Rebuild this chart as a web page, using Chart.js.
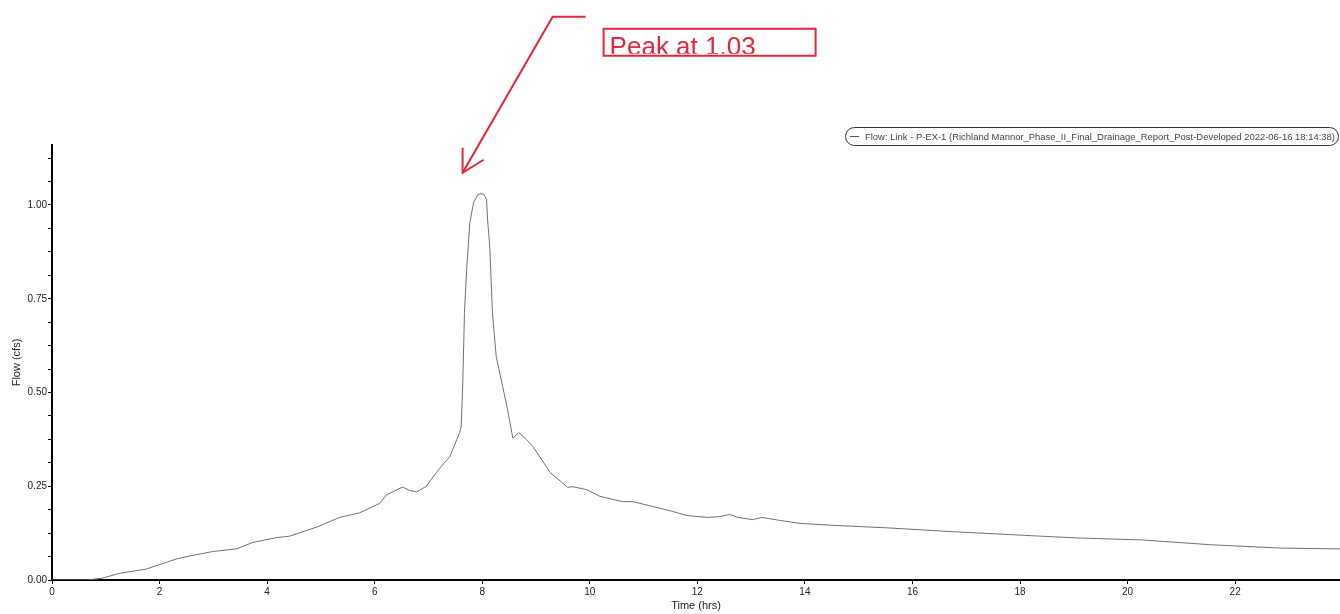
<!DOCTYPE html>
<html>
<head>
<meta charset="utf-8">
<script src="https://cdn.jsdelivr.net/npm/chart.js@4.4.1/dist/chart.umd.min.js"></script>
<style>
  html, body { margin: 0; padding: 0; background: #fff; }
  canvas { display: block; }
</style>
</head>
<body>
<canvas id="flow-chart" width="1340" height="614"></canvas>
<script>
// hydrograph: time in hrs, flow in cfs
const times = [0, 0.66, 0.94, 1.26, 1.75, 2.00, 2.31, 2.56, 2.99, 3.43, 3.73, 4.17, 4.42, 4.92, 5.35, 5.72,
  6.09, 6.22, 6.52, 6.65, 6.78, 6.96, 7.15, 7.40, 7.58, 7.61, 7.64, 7.67, 7.71, 7.77, 7.84, 7.92, 7.97,
  8.03, 8.08, 8.10, 8.14, 8.19, 8.26, 8.38, 8.47, 8.57, 8.68, 8.82, 8.94, 9.19, 9.26, 9.59, 9.68, 9.94,
  10.19, 10.61, 10.80, 11.17, 11.54, 11.80, 12.18, 12.42, 12.60, 12.75, 13.03, 13.20, 13.53, 13.91,
  14.50, 15.54, 16.72, 17.96, 19.08, 20.25, 21.55, 22.86, 23.95];
const flows = [0, 0, 0.005, 0.018, 0.029, 0.041, 0.056, 0.064, 0.076, 0.083, 0.100, 0.113, 0.117, 0.141, 0.167, 0.179,
  0.204, 0.227, 0.248, 0.239, 0.235, 0.250, 0.287, 0.330, 0.393, 0.410, 0.535, 0.713, 0.828, 0.953, 1.007, 1.028, 1.03,
  1.028, 1.015, 0.960, 0.889, 0.713, 0.596, 0.516, 0.455, 0.378, 0.393, 0.375, 0.356, 0.303, 0.287, 0.247, 0.249, 0.241,
  0.223, 0.209, 0.209, 0.196, 0.183, 0.172, 0.167, 0.169, 0.175, 0.167, 0.161, 0.167, 0.159, 0.151,
  0.146, 0.139, 0.129, 0.120, 0.112, 0.107, 0.094, 0.085, 0.083];
const xTicks = [0, 2, 4, 6, 8, 10, 12, 14, 16, 18, 20, 22];
const yLabels = [0, 0.25, 0.5, 0.75, 1.0];

const seriesName = 'Flow: Link - P-EX-1 (Richland Mannor_Phase_II_Final_Drainage_Report_Post-Developed 2022-06-16 18:14:38)';
const peakText = 'Peak at 1.03';
const red = '#e4253b';
const font = 'Liberation Sans, Arial, sans-serif';

const points = times.map((t, i) => ({ x: t, y: flows[i] }));

// legend box in the top right corner
const legendBox = {
  id: 'legendBox',
  afterDraw(chart) {
    const ctx = chart.ctx;
    ctx.save();
    ctx.strokeStyle = '#333';
    ctx.lineWidth = 1;
    ctx.beginPath();
    ctx.roundRect(845.5, 127.5, 493, 18, 9);
    ctx.stroke();
    ctx.strokeStyle = '#555';
    ctx.beginPath();
    ctx.moveTo(850, 136.5);
    ctx.lineTo(859, 136.5);
    ctx.stroke();
    ctx.fillStyle = '#444';
    ctx.font = '9.5px ' + font;
    ctx.textBaseline = 'middle';
    ctx.fillText(seriesName, 865, 137, 470);
    ctx.restore();
  }
};

// red arrow + boxed label pointing at the peak
const peakNote = {
  id: 'peakNote',
  afterDraw(chart) {
    const xs = chart.scales.x, ys = chart.scales.y;
    let k = 0;
    flows.forEach((v, i) => { if (v > flows[k]) k = i; });
    const px = xs.getPixelForValue(times[k]);
    const py = ys.getPixelForValue(flows[k]);
    const tipX = px - 18, tipY = py - 21;
    const ctx = chart.ctx;
    ctx.save();
    ctx.strokeStyle = red;
    ctx.lineWidth = 2;
    ctx.beginPath();
    ctx.moveTo(px + 105, py - 177);
    ctx.lineTo(px + 72, py - 177);
    ctx.lineTo(tipX, tipY);
    ctx.stroke();
    ctx.beginPath();
    ctx.moveTo(tipX, tipY - 25);
    ctx.lineTo(tipX, tipY);
    ctx.lineTo(tipX + 21, tipY - 13);
    ctx.stroke();
    const bx = px + 123, by = py - 165, bw = 212, bh = 27;
    ctx.strokeRect(bx, by, bw, bh);
    ctx.beginPath();
    ctx.rect(bx, by, bw, bh - 2);
    ctx.clip();
    ctx.fillStyle = red;
    ctx.font = '26px ' + font;
    ctx.textBaseline = 'alphabetic';
    ctx.fillText(peakText, bx + 6, by + 26);
    ctx.restore();
  }
};

new Chart(document.getElementById('flow-chart'), {
  type: 'line',
  data: {
    datasets: [{
      label: seriesName,
      data: points,
      borderColor: '#707070',
      borderWidth: 1,
      pointRadius: 0,
      tension: 0,
      fill: false
    }]
  },
  options: {
    responsive: false,
    animation: false,
    devicePixelRatio: 1,
    layout: { padding: { top: 145, right: 0, bottom: 0, left: 0 } },
    plugins: {
      legend: { display: false },
      tooltip: { enabled: false }
    },
    scales: {
      x: {
        type: 'linear',
        min: 0,
        max: 23.95,
        afterBuildTicks: s => { s.ticks = xTicks.map(v => ({ value: v })); },
        afterFit: s => { s.height = 34; },
        ticks: { color: '#222', font: { family: font, size: 10 }, padding: 2, maxRotation: 0 },
        grid: { drawOnChartArea: false, tickLength: 4, color: '#000' },
        border: { color: '#000', width: 2 },
        title: { display: true, text: 'Time (hrs)', color: '#222', font: { family: font, size: 11 }, padding: { top: 0, bottom: 1 } }
      },
      y: {
        min: 0,
        max: 1.16,
        afterBuildTicks: s => {
          const t = [];
          for (let v = 0; v <= 1.16; v += 0.0625) t.push({ value: v });
          s.ticks = t;
        },
        afterFit: s => { s.width = 52; },
        ticks: {
          color: '#222',
          font: { family: font, size: 10 },
          padding: 1,
          callback: v => yLabels.some(l => Math.abs(l - v) < 1e-6) ? v.toFixed(2) : ''
        },
        grid: { drawOnChartArea: false, tickLength: 4, color: '#000' },
        border: { color: '#000', width: 2 },
        title: { display: true, text: 'Flow (cfs)', color: '#222', font: { family: font, size: 11 }, padding: { top: 10, bottom: 0 } }
      }
    }
  },
  plugins: [legendBox, peakNote]
});
</script>
</body>
</html>
